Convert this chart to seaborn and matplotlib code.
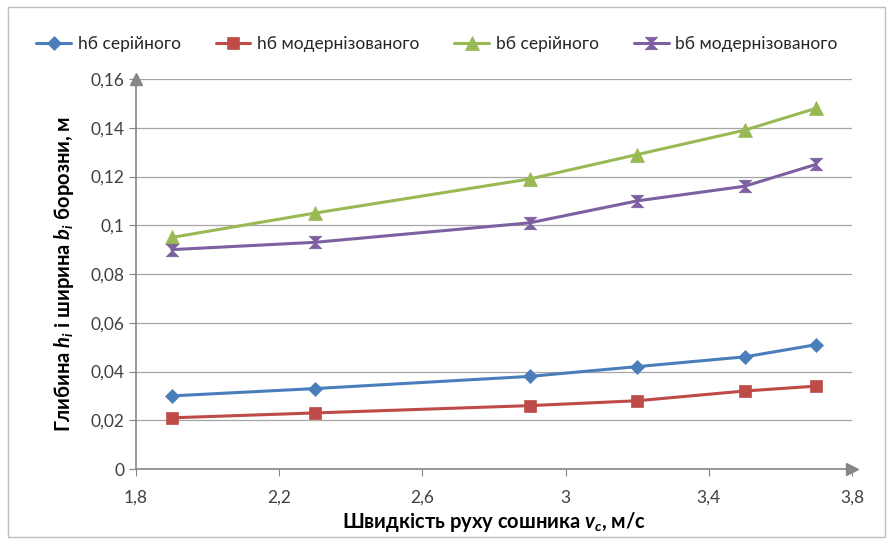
import matplotlib
matplotlib.use("Agg")
import matplotlib.pyplot as plt
import seaborn as sns
import pandas as pd
from matplotlib.patches import Rectangle

# швидкість руху сошника, м/с
speed = [1.9, 2.3, 2.9, 3.2, 3.5, 3.7]

# глибина і ширина борозни, м
h_serial = [0.030, 0.033, 0.038, 0.042, 0.046, 0.051]
h_modern = [0.021, 0.023, 0.026, 0.028, 0.032, 0.034]
b_serial = [0.095, 0.105, 0.119, 0.129, 0.139, 0.148]
b_modern = [0.090, 0.093, 0.101, 0.110, 0.116, 0.125]

names = ["hб серійного", "hб модернізованого", "bб серійного", "bб модернізованого"]
colors = ["#4A7EBB", "#BE4B48", "#98B954", "#7D60A0"]
hourglass = [(-1, 1), (1, 1), (-1, -1), (1, -1), (-1, 1)]
markers = ["D", "s", "^", hourglass]
msizes = [7, 9, 10, 9]

series = [h_serial, h_modern, b_serial, b_modern]
df = pd.concat([pd.DataFrame({"v": speed, "val": s, "name": n})
                for s, n in zip(series, names)])

sns.set_style("white")
plt.rcParams["font.family"] = ["Lato", "DejaVu Sans"]
plt.rcParams["mathtext.fontset"] = "custom"
plt.rcParams["mathtext.it"] = "Lato:italic:bold"
plt.rcParams["mathtext.rm"] = "Lato:bold"

fig = plt.figure(figsize=(8.92, 5.45), dpi=100)
ax = fig.add_axes([136 / 892, 1 - 469 / 545, (852 - 136) / 892, (469 - 79) / 545])

# рамка навколо діаграми
fig.patches.append(Rectangle((8 / 892, 8 / 545), 877 / 892, 530 / 545,
                             transform=fig.transFigure, fill=False,
                             edgecolor="#BFBFBF", lw=1))

for n, c, m, ms in zip(names, colors, markers, msizes):
    d = df[df["name"] == n]
    sns.lineplot(data=d, x="v", y="val", ax=ax, color=c, lw=2.2,
                 marker=m, markersize=ms, markeredgecolor=c,
                 markeredgewidth=0.5, label=n, legend=False)

ax.set_xlim(1.8, 3.8)
ax.set_ylim(0, 0.16)
ax.set_xticks([1.8, 2.2, 2.6, 3.0, 3.4, 3.8])
ax.set_xticklabels(["1,8", "2,2", "2,6", "3", "3,4", "3,8"])
ax.set_yticks([0, 0.02, 0.04, 0.06, 0.08, 0.10, 0.12, 0.14, 0.16])
ax.set_yticklabels(["0", "0,02", "0,04", "0,06", "0,08", "0,1", "0,12", "0,14", "0,16"])
ax.grid(axis="y", color="#A6A6A6", lw=0.9)
ax.grid(axis="x", visible=False)
ax.tick_params(axis="both", length=5, color="#868686", labelsize=12.5,
               labelcolor="#404040", direction="out", bottom=True, left=True)
ax.tick_params(axis="x", pad=10)

for s in ["top", "right"]:
    ax.spines[s].set_visible(False)
for s in ["left", "bottom"]:
    ax.spines[s].set_color("#868686")
    ax.spines[s].set_linewidth(1.2)

# стрілки осей
ax.plot(1, 0, ">", color="#868686", markersize=9, transform=ax.transAxes, clip_on=False)
ax.plot(0, 1, "^", color="#868686", markersize=9, transform=ax.transAxes, clip_on=False)

ax.set_xlabel(r"Швидкість руху сошника $v_c$, м/с", fontsize=14.5,
              fontweight="bold", color="black", labelpad=3)
ax.set_ylabel(r"Глибина $h_i$ і ширина $b_i$ борозни, м", fontsize=14.5,
              fontweight="bold", color="black", labelpad=10)

h, l = ax.get_legend_handles_labels()
fig.legend(h, l, loc="center", bbox_to_anchor=(0.49, 1 - 44 / 545), ncol=4,
           frameon=False, fontsize=12.5, handlelength=2.0, columnspacing=2.0,
           handletextpad=0.4)

fig.savefig("out.png", dpi=100)
